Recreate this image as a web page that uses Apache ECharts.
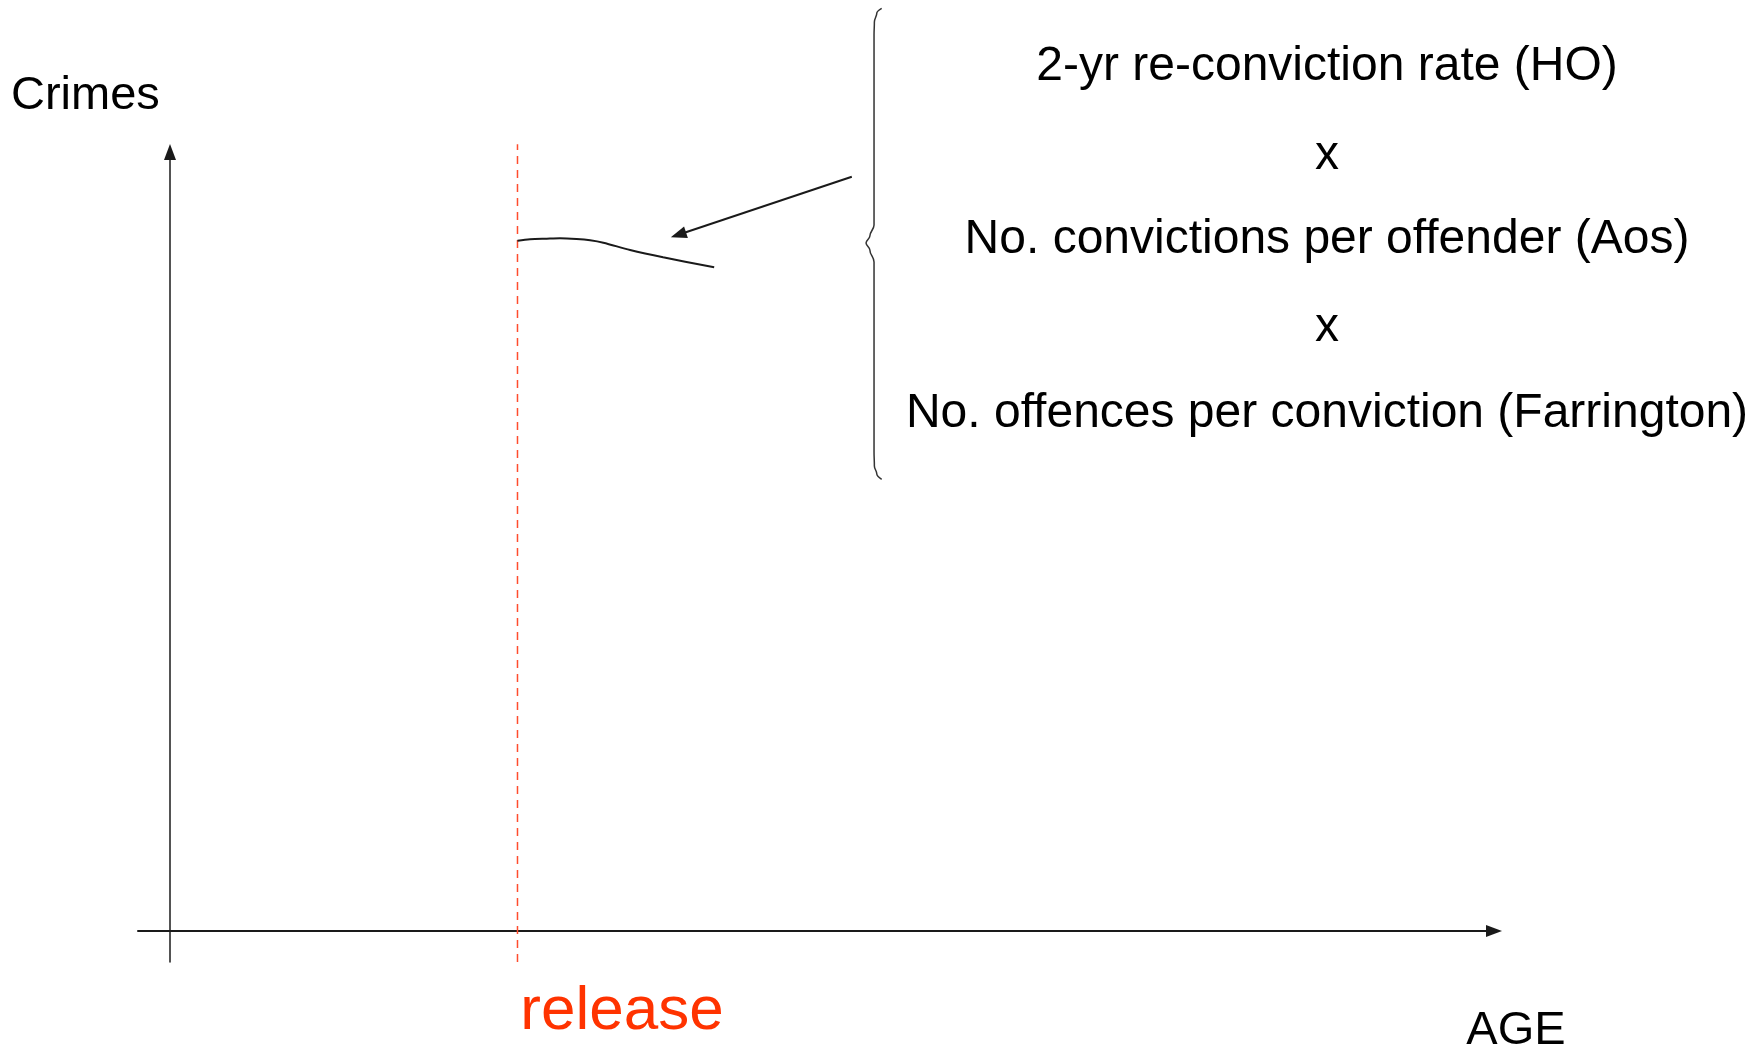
<!DOCTYPE html>
<html>
<head>
<meta charset="utf-8">
<script src="https://cdn.jsdelivr.net/npm/echarts@6/dist/echarts.min.js"></script>
<style>
  html, body { margin: 0; padding: 0; background: #ffffff; }
  #chart { width: 1764px; height: 1049px; }
</style>
</head>
<body>
<div id="chart"></div>
<script>
// ---- data (schematic units: x = age, y = crimes) ----
const ageRange = [-0.92, 38.1];
const crimesRange = [-3.98, 100];
const releaseAge = 10;
const releaseSpan = [-3.98, 101.0];
const curveAge = [10.0, 10.36, 10.84, 11.22, 11.7, 12.09, 12.47, 13.24, 14.19, 15.66];
const curveCrimes = [88.61, 88.79, 88.87, 88.92, 88.83, 88.67, 88.36, 87.42, 86.48, 85.2];
const pointerFrom = [19.62, 96.83];
const pointerTo = [14.63, 89.37];
const braceX = [20.48, 20.34, 20.27, 20.26, 20.26, 20.14, 20.03, 20.14, 20.26, 20.26, 20.27, 20.34, 20.48];
const braceY = [118.45, 117.84, 116.69, 115.02, 90.63, 89.22, 88.32, 87.42, 85.88, 61.49, 59.69, 58.66, 57.98];
const formulaLines = [
  '2-yr re-conviction rate (HO)',
  'x',
  'No. convictions per offender (Aos)',
  'x',
  'No. offences per conviction (Farrington)'
];
const yName = 'Crimes';
const xName = 'AGE';
const releaseLabel = 'release';

// ---- chart ----
const FONT = '"Liberation Sans", Arial, Helvetica, sans-serif';
const chart = echarts.init(document.getElementById('chart'), null, { renderer: 'canvas' });

const zip = (a, b) => a.map((v, i) => [v, b[i]]);
const formulaY = [67, 156, 240, 328, 414];

const graphics = [
  { type: 'text', x: 11, y: 96, style: { text: yName, font: '47px ' + FONT, fill: '#000', align: 'left', verticalAlign: 'middle' } },
  { type: 'text', x: 1516, y: 1031, style: { text: xName, font: '47px ' + FONT, fill: '#000', align: 'center', verticalAlign: 'middle' } },
  { type: 'text', x: 622, y: 1012, style: { text: releaseLabel, font: '62px ' + FONT, fill: '#FF3300', align: 'center', verticalAlign: 'middle' } }
];
formulaLines.forEach((t, i) => {
  graphics.push({ type: 'text', x: 1327, y: formulaY[i], style: { text: t, font: '48px ' + FONT, fill: '#000', align: 'center', verticalAlign: 'middle' } });
});

chart.setOption({
  animation: false,
  backgroundColor: '#ffffff',
  grid: { left: 138, right: 270, top: 152, bottom: 87, containLabel: false, outerBoundsMode: 'none' },
  xAxis: {
    type: 'value', min: ageRange[0], max: ageRange[1],
    axisLine: { show: true, onZero: true, symbol: ['none', 'triangle'], symbolSize: [12, 16], lineStyle: { color: '#1a1a1a', width: 2 } },
    axisTick: { show: false }, axisLabel: { show: false }, splitLine: { show: false }
  },
  yAxis: {
    type: 'value', min: crimesRange[0], max: crimesRange[1],
    axisLine: { show: true, onZero: true, symbol: ['none', 'triangle'], symbolSize: [12, 16], lineStyle: { color: '#1a1a1a', width: 1.5 } },
    axisTick: { show: false }, axisLabel: { show: false }, splitLine: { show: false }
  },
  series: [
    {
      name: 'release', type: 'line', clip: false, silent: true, showSymbol: false, symbol: 'none',
      data: [[releaseAge, releaseSpan[0]], [releaseAge, releaseSpan[1]]],
      lineStyle: { color: '#FF4D2E', width: 1.5, type: [8, 6] }, z: 3
    },
    {
      name: 'curve', type: 'line', clip: false, silent: true, showSymbol: false, symbol: 'none',
      smooth: 0.3,
      data: zip(curveAge, curveCrimes),
      lineStyle: { color: '#1a1a1a', width: 2 }, z: 4
    },
    {
      name: 'brace', type: 'line', clip: false, silent: true, showSymbol: false, symbol: 'none', smooth: 0.4, smoothMonotone: 'y',
      data: zip(braceX, braceY),
      lineStyle: { color: '#333', width: 1.5 }, z: 4,
      markLine: {
        silent: true, symbol: ['none', 'triangle'], symbolSize: [12, 16],
        label: { show: false },
        lineStyle: { color: '#1a1a1a', width: 2, type: 'solid' },
        data: [[{ coord: pointerFrom }, { coord: pointerTo }]]
      }
    }
  ],
  graphic: graphics
});
</script>
</body>
</html>
